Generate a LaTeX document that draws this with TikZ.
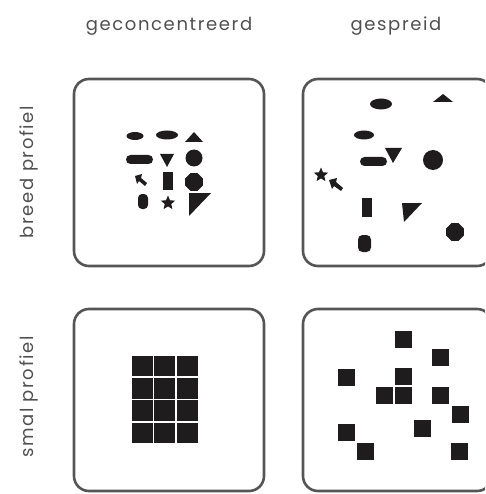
\documentclass[tikz,border=0pt]{standalone}
\usepackage{fontspec}
\setmainfont{Poppins}
\newfontfamily\labfont[LetterSpace=9]{Poppins}
\usetikzlibrary{shapes.geometric}
\definecolor{txt}{HTML}{505050}
\definecolor{frame}{HTML}{555555}
\definecolor{ink}{HTML}{1E1C1D}
\tikzset{
  panel/.style={draw=frame, line width=2.6pt, rounded corners=15pt},
  lab/.style={text=txt, font=\labfont\fontsize{18}{21}\selectfont, inner sep=0pt},
  shp/.style={fill=ink},
  oct/.style={regular polygon, regular polygon sides=8, fill=ink, inner sep=0pt, minimum size=19pt},
  starshape/.style={star, star points=5, star point ratio=2.2, fill=ink, inner sep=0pt, minimum size=15pt},
  sq/.style={fill=ink, minimum size=17pt, inner sep=0pt},
  cell/.style={fill=ink, minimum size=20.8pt, inner sep=0pt}
}
\begin{document}
\begin{tikzpicture}[x=1pt,y=-1pt]
\useasboundingbox (0,0) rectangle (485,494);
% labels
\node[lab] (h1) at (169,26) {geconcentreerd};
\node[lab] (h2) at (396,26) {gespreid};
\node[lab, rotate=90] (v1) at (29,172) {breed profiel};
\node[lab, rotate=90] (v2) at (29,397) {smal profiel};
% panels
\begin{scope}
\clip (0,0) rectangle (485,494);
\draw[panel] (74,79) rectangle (264,266);
\draw[panel] (303,79) rectangle (492,266);
\draw[panel] (74,309) rectangle (264,491);
\draw[panel] (303,309) rectangle (492,491);
\end{scope}
% ---- top-left: concentrated shapes
\fill[shp] (135,136) ellipse [x radius=8.5pt, y radius=4pt];
\fill[shp] (167,135) ellipse [x radius=11pt, y radius=4.5pt];
\fill[shp] (185,142) -- (203,142) -- (194,132) -- cycle;
\fill[shp, rounded corners=4.5pt] (126,155) rectangle (153,164);
\fill[shp] (160,154) -- (174,154) -- (167,167) -- cycle;
\fill[shp] (194,158) circle [radius=8.5pt];
\fill[shp] (135,176) -- (142,174) -- (141,178) -- (147,183) -- (145,186) -- (139,181) -- (137,184) -- cycle;
\fill[shp] (163,172) rectangle (173,190);
\node[oct] (o1) at (194,182) {};
\fill[shp, rounded corners=4pt] (138,194) rectangle (148,209);
\node[starshape] (s1) at (168,203) {};
\fill[shp] (189,193) -- (211,193) -- (189,216) -- cycle;
% ---- top-right: spread shapes
\fill[shp] (381,104) ellipse [x radius=11pt, y radius=5.5pt];
\fill[shp] (433,102) -- (453,102) -- (443,94) -- cycle;
\fill[shp] (364,135) ellipse [x radius=10pt, y radius=4.5pt];
\fill[shp, rounded corners=4.5pt] (360,157) rectangle (387,166);
\fill[shp] (385,148) -- (402,148) -- (393,163) -- cycle;
\fill[shp] (433,160) circle [radius=10pt];
\node[starshape] (s2) at (321,175) {};
\fill[shp] (329,180) -- (337,178) -- (336,182) -- (343,188) -- (341,191) -- (334,186) -- (332,189) -- cycle;
\fill[shp] (362,198) rectangle (372,217);
\fill[shp] (402,203) -- (422,203) -- (404,222) -- cycle;
\node[oct] (o2) at (455,232) {};
\fill[shp, rounded corners=4.5pt] (358,235) rectangle (371,252);
% ---- bottom-left: grid
\foreach \c in {0,1,2}{
  \foreach \r in {0,1,2,3}{
    \node[cell] (g\c\r) at ({142.5+22.3*\c},{366+22.3*\r}) {};
  }
}
% ---- bottom-right: scattered squares
\node[sq] (q1) at (403,339) {};
\node[sq] (q2) at (440,357) {};
\node[sq] (q3) at (346,377) {};
\node[sq] (q4) at (403,376) {};
\node[sq] (q5) at (384,395) {};
\node[sq] (q6) at (403,395) {};
\node[sq] (q7) at (440,395) {};
\node[sq] (q8) at (460,414) {};
\node[sq] (q9) at (346,432) {};
\node[sq] (q10) at (422,428) {};
\node[sq] (q11) at (365,451) {};
\node[sq] (q12) at (459,451) {};
\end{tikzpicture}
\end{document}
